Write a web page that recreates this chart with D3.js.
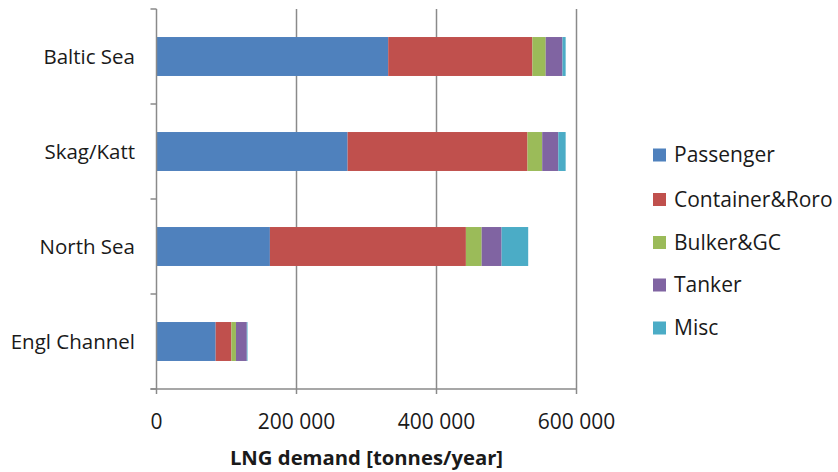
<!DOCTYPE html>
<html><head><meta charset="utf-8">
<script src="https://cdn.jsdelivr.net/npm/d3@7"></script>
<style>body{margin:0;background:#fff}svg{display:block}text{font-family:"Open Sans",Lato,sans-serif;fill:#1a1a1a}</style>
</head><body>
<svg id="c" width="838" height="472"></svg>
<script>
const categories = ["Baltic Sea","Skag/Katt","North Sea","Engl Channel"];
const seriesNames = ["Passenger","Container&Roro","Bulker&GC","Tanker","Misc"];
const passenger = [331000,273000,162000,84500];
const containerRoro = [206000,257000,280000,22500];
const bulkerGC = [19000,21000,22500,6500];
const tanker = [24000,23000,28500,15500];
const misc = [4500,10500,38000,1000];
const xTicks = [0,200000,400000,600000];
const xTickLabels = ["0","200 000","400 000","600 000"];
const colors = ["#4F81BD","#C0504D","#9BBB59","#8064A2","#4BACC6"];

const seriesValues = [passenger,containerRoro,bulkerGC,tanker,misc];
const rows = categories.map((c,i)=>{const o={cat:c};seriesNames.forEach((s,j)=>o[s]=seriesValues[j][i]);return o;});
const stacked = d3.stack().keys(seriesNames)(rows);

const svg = d3.select("#c");
const pL=156.5, pR=576.5, pT=9, pB=389;
const x = d3.scaleLinear().domain([0,600000]).range([pL,pR]);
const y = d3.scaleBand().domain(categories).range([pT,pB]).paddingInner(0.59).paddingOuter(0.295);
const yb = d3.scaleBand().domain(categories).range([pT,pB]);

// gridlines
svg.append("g").selectAll("line").data(xTicks.slice(1)).join("line")
  .attr("x1",d=>x(d)).attr("x2",d=>x(d)).attr("y1",pT).attr("y2",pB)
  .attr("stroke","#8a8a8a").attr("stroke-width",1.5);

// bars
svg.append("g").selectAll("g").data(stacked).join("g")
  .attr("fill",(d,i)=>colors[i])
  .selectAll("rect").data(d=>d).join("rect")
  .attr("x",d=>x(d[0])).attr("width",d=>x(d[1])-x(d[0]))
  .attr("y",d=>y(d.data.cat)).attr("height",y.bandwidth());

// y axis
const yAxis = svg.append("g");
yAxis.append("line").attr("x1",pL).attr("x2",pL).attr("y1",pT).attr("y2",pB).attr("stroke","#8a8a8a").attr("stroke-width",1.5);
const bounds = categories.map(c=>yb(c)).concat([pB]);
yAxis.selectAll("line.t").data(bounds).join("line").attr("class","t")
  .attr("x1",pL-6).attr("x2",pL).attr("y1",d=>d).attr("y2",d=>d).attr("stroke","#8a8a8a").attr("stroke-width",1.5);
yAxis.selectAll("text").data(categories).join("text")
  .attr("x",135).attr("y",d=>yb(d)+yb.bandwidth()/2).attr("dy","0.35em")
  .attr("text-anchor","end").attr("font-size",20.5).text(d=>d);

// x axis
const xAxis = svg.append("g");
xAxis.append("line").attr("x1",pL-6).attr("x2",pR).attr("y1",pB).attr("y2",pB).attr("stroke","#8a8a8a").attr("stroke-width",1.5);
xAxis.selectAll("line.t").data(xTicks).join("line").attr("class","t")
  .attr("x1",d=>x(d)).attr("x2",d=>x(d)).attr("y1",pB).attr("y2",pB+5).attr("stroke","#8a8a8a").attr("stroke-width",1.5);
xAxis.selectAll("text").data(xTicks).join("text")
  .attr("x",d=>x(d)).attr("y",422).attr("dy","0.35em").attr("text-anchor","middle")
  .attr("font-size",21).text((d,i)=>xTickLabels[i]);
svg.append("text").attr("x",366.5).attr("y",458).attr("dy","0.35em").attr("text-anchor","middle")
  .attr("font-size",20.3).attr("font-weight","bold").text("LNG demand [tonnes/year]");

// legend
const legY = [155,199.5,242.5,285,328];
const leg = svg.append("g").selectAll("g").data(seriesNames).join("g")
  .attr("transform",(d,i)=>`translate(653,${legY[i]})`);
leg.append("rect").attr("x",0).attr("y",-6.5).attr("width",13).attr("height",13).attr("fill",(d,i)=>colors[i]);
leg.append("text").attr("x",21).attr("y",0).attr("dy","0.35em").attr("font-size",21).text(d=>d);
</script>
</body></html>
